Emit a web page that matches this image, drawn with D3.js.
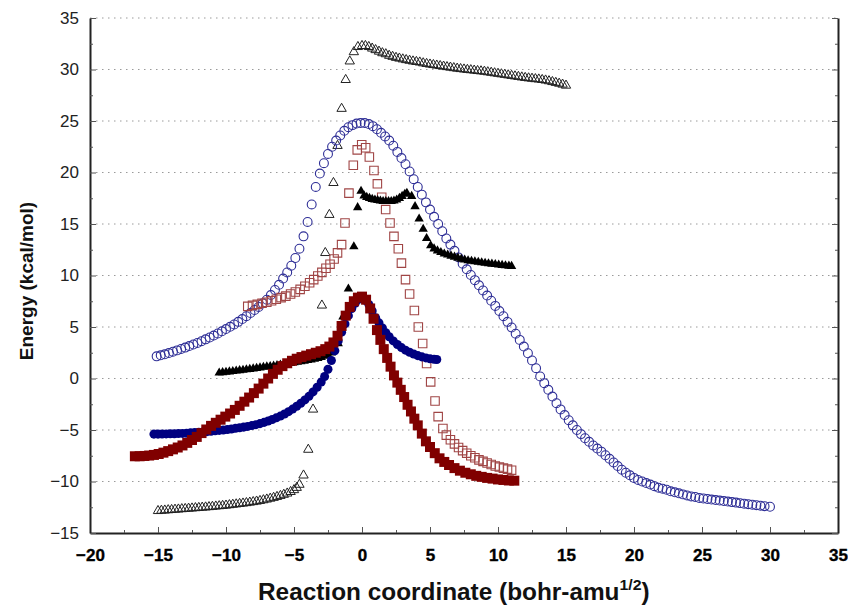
<!DOCTYPE html>
<html>
<head>
<meta charset="utf-8">
<script src="https://cdn.jsdelivr.net/npm/d3@7"></script>
<style>
  body { margin: 0; background: #fff; }
  svg { display: block; }
</style>
</head>
<body>
<div id="chart"></div>
<script>
// Axis setup
const xTicks = [-20, -15, -10, -5, 0, 5, 10, 15, 20, 25, 30, 35];
const yTicks = [-15, -10, -5, 0, 5, 10, 15, 20, 25, 30, 35];
const xTitle = "Reaction coordinate (bohr-amu";
const xTitleSup = "1/2";
const yTitle = "Energy (kcal/mol)";

// Open triangles (black)
const openTri = [
  [-15, -12.85], [-14.75, -12.82], [-14.5, -12.8], [-14.25, -12.77], [-14, -12.75], [-13.75, -12.72],
  [-13.5, -12.7], [-13.25, -12.67], [-13, -12.65], [-12.75, -12.62], [-12.5, -12.6], [-12.25, -12.57],
  [-12, -12.55], [-11.75, -12.52], [-11.5, -12.5], [-11.25, -12.47], [-11, -12.44], [-10.75, -12.41],
  [-10.5, -12.38], [-10.25, -12.35], [-10, -12.32], [-9.75, -12.28], [-9.5, -12.24], [-9.25, -12.2],
  [-9, -12.16], [-8.75, -12.12], [-8.5, -12.08], [-8.25, -12.03], [-8, -11.98], [-7.75, -11.93],
  [-7.5, -11.87], [-7.25, -11.8], [-7, -11.73], [-6.75, -11.65], [-6.5, -11.57], [-6.25, -11.48],
  [-6, -11.38], [-5.75, -11.27], [-5.5, -11.15], [-5.25, -11.0], [-5, -10.82], [-4.8, -10.6],
  [-4.6, -10.3], [-4.3, -9.4], [-3.95, -6.9], [-3.6, -3.0], [-2.95, 7.1], [-2.7, 12.2], [-2.4, 15.9],
  [-2.1, 19.0], [-1.8, 22.6], [-1.5, 26.2], [-1.2, 29.0], [-0.9, 30.8], [-0.6, 31.7], [-0.3, 32.2],
  [0, 32.3], [0.25, 32.3], [0.5, 32.2], [0.75, 32.05], [1, 31.9], [1.25, 31.75], [1.5, 31.6],
  [1.75, 31.5], [2, 31.35], [2.25, 31.25], [2.5, 31.15], [2.75, 31.08], [3, 31.0], [3.25, 30.93],
  [3.5, 30.87], [3.75, 30.8], [4, 30.75], [4.25, 30.7], [4.5, 30.62], [4.75, 30.56], [5, 30.5],
  [5.25, 30.45], [5.5, 30.4], [5.75, 30.35], [6, 30.3], [6.25, 30.25], [6.5, 30.2], [6.75, 30.15],
  [7, 30.1], [7.25, 30.06], [7.5, 30.02], [7.75, 29.98], [8, 29.95], [8.25, 29.91], [8.5, 29.87],
  [8.75, 29.84], [9, 29.8], [9.25, 29.75], [9.5, 29.7], [9.75, 29.65], [10, 29.6], [10.25, 29.55],
  [10.5, 29.5], [10.75, 29.45], [11, 29.4], [11.25, 29.35], [11.5, 29.3], [11.75, 29.25], [12, 29.2],
  [12.25, 29.16], [12.5, 29.12], [12.75, 29.08], [13, 29.05], [13.25, 29.0], [13.5, 28.95],
  [13.75, 28.88], [14, 28.8], [14.25, 28.72], [14.5, 28.64], [14.75, 28.55], [15, 28.45]
];

// Open circles (blue)
const openCirc = [
  [-15.1, 2.15], [-14.8, 2.25], [-14.5, 2.35], [-14.2, 2.47], [-13.9, 2.6], [-13.6, 2.73], [-13.3, 2.87],
  [-13.0, 3.0], [-12.7, 3.15], [-12.4, 3.3], [-12.1, 3.45], [-11.8, 3.62], [-11.5, 3.8], [-11.2, 3.98],
  [-10.9, 4.17], [-10.6, 4.37], [-10.3, 4.58], [-10.0, 4.8], [-9.7, 5.02], [-9.4, 5.25], [-9.1, 5.5],
  [-8.8, 5.77], [-8.5, 6.05], [-8.2, 6.35], [-7.9, 6.65], [-7.6, 6.95], [-7.3, 7.3], [-7.0, 7.65],
  [-6.7, 8.1], [-6.4, 8.6], [-6.1, 9.1], [-5.8, 9.7], [-5.5, 10.3], [-5.2, 10.95], [-4.9, 11.7],
  [-4.6, 12.6], [-4.3, 13.8], [-4.0, 15.2], [-3.7, 16.9], [-3.4, 18.6], [-3.1, 19.9], [-2.8, 20.9],
  [-2.5, 21.8], [-2.2, 22.5], [-1.9, 23.1], [-1.6, 23.6], [-1.3, 24.05], [-1.0, 24.4], [-0.7, 24.6],
  [-0.4, 24.75], [-0.1, 24.8], [0.2, 24.8], [0.5, 24.7], [0.8, 24.5], [1.1, 24.2], [1.4, 23.85],
  [1.7, 23.5], [2.0, 23.1], [2.3, 22.6], [2.6, 22.0], [2.9, 21.4], [3.2, 20.8], [3.5, 20.1],
  [3.8, 19.35], [4.1, 18.6], [4.4, 17.85], [4.7, 17.1], [5.0, 16.4], [5.3, 15.7], [5.6, 15.0],
  [5.9, 14.3], [6.2, 13.6], [6.5, 13.0], [6.8, 12.4], [7.1, 11.75], [7.4, 11.15], [7.7, 10.6],
  [8.0, 10.05], [8.3, 9.55], [8.6, 9.05], [8.9, 8.55], [9.2, 8.05], [9.5, 7.55], [9.8, 7.05],
  [10.1, 6.55], [10.4, 6.05], [10.7, 5.5], [11.0, 4.95], [11.3, 4.35], [11.6, 3.75], [11.9, 3.1],
  [12.2, 2.45], [12.5, 1.75], [12.8, 1.0], [13.1, 0.2], [13.4, -0.45], [13.7, -1.1], [14.0, -1.75],
  [14.3, -2.4], [14.6, -3.0], [14.9, -3.55], [15.2, -4.05], [15.5, -4.55], [15.8, -5.0], [16.1, -5.4],
  [16.4, -5.8], [16.7, -6.15], [17.0, -6.5], [17.3, -6.8], [17.6, -7.1], [17.9, -7.45], [18.2, -7.8],
  [18.5, -8.15], [18.8, -8.5], [19.1, -8.85], [19.4, -9.15], [19.7, -9.4], [20.0, -9.65], [20.3, -9.85],
  [20.6, -10.0], [20.9, -10.15], [21.2, -10.3], [21.5, -10.45], [21.8, -10.6], [22.1, -10.7],
  [22.4, -10.8], [22.7, -10.95], [23.0, -11.05], [23.3, -11.15], [23.6, -11.25], [23.9, -11.35],
  [24.2, -11.45], [24.5, -11.5], [24.8, -11.6], [25.1, -11.65], [25.4, -11.7], [25.7, -11.75],
  [26.0, -11.8], [26.3, -11.85], [26.6, -11.9], [26.9, -11.95], [27.2, -12.0], [27.5, -12.05],
  [27.8, -12.1], [28.1, -12.15], [28.4, -12.2], [28.7, -12.25], [29.0, -12.3], [29.3, -12.35],
  [29.6, -12.4], [30.0, -12.45]
];

// Open squares (brown)
const openSq = [
  [-8.4, 7.0], [-8.05, 7.1], [-7.7, 7.2], [-7.35, 7.3], [-7.0, 7.4], [-6.65, 7.55], [-6.3, 7.7],
  [-5.95, 7.85], [-5.6, 8.0], [-5.25, 8.2], [-4.9, 8.4], [-4.55, 8.65], [-4.2, 8.95], [-3.85, 9.3],
  [-3.55, 9.6], [-3.25, 9.95], [-2.95, 10.3], [-2.65, 10.7], [-2.35, 11.1], [-2.05, 11.6], [-1.8, 12.2],
  [-1.5, 13.0], [-1.25, 15.1], [-0.96, 18.0], [-0.64, 20.7], [-0.35, 22.2], [-0.02, 22.7], [0.27, 22.4],
  [0.54, 21.5], [0.88, 20.2], [1.13, 18.9], [1.45, 17.6], [1.74, 16.4], [2.06, 15.1], [2.35, 13.8],
  [2.67, 12.6], [2.9, 11.2], [3.2, 9.6], [3.5, 8.2], [3.85, 6.6], [4.14, 5.0], [4.46, 3.4], [4.75, 1.46],
  [5.05, -0.33], [5.37, -2.18], [5.6, -3.7], [5.95, -4.85], [6.2, -5.5], [6.5, -5.95], [6.8, -6.35],
  [7.1, -6.7], [7.4, -7.0], [7.7, -7.25], [8.0, -7.5], [8.3, -7.7], [8.6, -7.9], [8.9, -8.05],
  [9.2, -8.2], [9.5, -8.35], [9.8, -8.5], [10.1, -8.6], [10.4, -8.7], [10.7, -8.8], [11.0, -8.9]
];

// Filled triangles (black)
const fillTri = [
  [-10.5, 0.55], [-10.25, 0.58], [-10.0, 0.62], [-9.75, 0.66], [-9.5, 0.7], [-9.25, 0.74], [-9.0, 0.78],
  [-8.75, 0.82], [-8.5, 0.86], [-8.25, 0.9], [-8.0, 0.95], [-7.75, 1.0], [-7.5, 1.05], [-7.25, 1.1],
  [-7.0, 1.14], [-6.75, 1.18], [-6.5, 1.22], [-6.25, 1.27], [-6.0, 1.32], [-5.75, 1.37], [-5.5, 1.42],
  [-5.25, 1.48], [-5.0, 1.54], [-4.75, 1.6], [-4.5, 1.65], [-4.25, 1.7], [-4.0, 1.76], [-3.75, 1.82],
  [-3.5, 1.88], [-3.25, 1.95], [-3.0, 2.05], [-2.75, 2.17], [-2.5, 2.3], [-2.25, 2.5], [-2.0, 2.9],
  [-1.75, 3.4], [-1.4, 6.0], [-1.0, 8.7], [-0.6, 12.8], [-0.32, 16.6], [-0.07, 18.2], [0.15, 17.75],
  [0.35, 17.6], [0.55, 17.5], [0.75, 17.4], [0.95, 17.35], [1.15, 17.3], [1.35, 17.25], [1.55, 17.2],
  [1.75, 17.2], [1.95, 17.2], [2.15, 17.2], [2.35, 17.25], [2.55, 17.35], [2.75, 17.5], [2.95, 17.7],
  [3.15, 17.9], [3.3, 18.0], [3.65, 17.7], [3.9, 16.7], [4.2, 15.5], [4.5, 14.5], [4.75, 13.6],
  [5.05, 12.9], [5.3, 12.6], [5.55, 12.4], [5.8, 12.25], [6.05, 12.1], [6.3, 12.0], [6.55, 11.9],
  [6.8, 11.8], [7.05, 11.7], [7.3, 11.6], [7.55, 11.52], [7.8, 11.45], [8.05, 11.4], [8.3, 11.35],
  [8.55, 11.3], [8.8, 11.25], [9.05, 11.2], [9.3, 11.16], [9.55, 11.12], [9.8, 11.08], [10.05, 11.04],
  [10.3, 11.0], [10.55, 10.96], [10.8, 10.92], [11.0, 10.9]
];

// Filled circles (navy)
const fillCirc = [
  [-15.3, -5.4], [-15.0, -5.4], [-14.7, -5.39], [-14.4, -5.38], [-14.1, -5.37], [-13.8, -5.36],
  [-13.5, -5.35], [-13.2, -5.33], [-12.9, -5.31], [-12.6, -5.28], [-12.3, -5.25], [-12.0, -5.22],
  [-11.7, -5.19], [-11.4, -5.16], [-11.1, -5.12], [-10.8, -5.08], [-10.5, -5.04], [-10.2, -5.0],
  [-9.9, -4.96], [-9.6, -4.9], [-9.3, -4.84], [-9.0, -4.78], [-8.7, -4.72], [-8.4, -4.65], [-8.1, -4.57],
  [-7.8, -4.48], [-7.5, -4.38], [-7.2, -4.26], [-6.9, -4.13], [-6.6, -3.98], [-6.3, -3.82], [-6.0, -3.65],
  [-5.7, -3.45], [-5.4, -3.22], [-5.1, -2.97], [-4.8, -2.7], [-4.5, -2.4], [-4.2, -2.08], [-3.9, -1.73],
  [-3.6, -1.3], [-3.3, -0.85], [-3.0, -0.35], [-2.75, 0.2], [-2.5, 0.9], [-2.25, 1.75], [-2.0, 2.7],
  [-1.75, 3.65], [-1.5, 4.5], [-1.25, 5.3], [-1.0, 6.1], [-0.75, 6.8], [-0.5, 7.3], [-0.25, 7.7],
  [0.0, 7.8], [0.25, 7.6], [0.5, 7.2], [0.75, 6.55], [1.0, 5.9], [1.25, 5.4], [1.5, 4.9], [1.75, 4.45],
  [2.0, 4.05], [2.3, 3.65], [2.6, 3.3], [2.9, 3.0], [3.2, 2.75], [3.5, 2.55], [3.8, 2.38], [4.1, 2.22],
  [4.4, 2.1], [4.7, 2.0], [5.0, 1.92], [5.3, 1.87], [5.5, 1.85]
];

// Filled squares (dark red)
const fillSq = [
  [-16.7, -7.55], [-16.35, -7.55], [-16.0, -7.52], [-15.65, -7.48], [-15.3, -7.42], [-14.95, -7.33],
  [-14.6, -7.2], [-14.25, -7.05], [-13.9, -6.88], [-13.55, -6.7], [-13.2, -6.5], [-12.85, -6.25],
  [-12.5, -5.97], [-12.15, -5.67], [-11.8, -5.3], [-11.45, -4.95], [-11.1, -4.6], [-10.75, -4.3],
  [-10.4, -4.0], [-10.05, -3.7], [-9.7, -3.4], [-9.35, -3.05], [-9.0, -2.65], [-8.65, -2.25],
  [-8.3, -1.85], [-7.95, -1.42], [-7.6, -0.98], [-7.25, -0.5], [-6.9, 0.0], [-6.55, 0.45], [-6.2, 0.85],
  [-5.85, 1.2], [-5.5, 1.48], [-5.15, 1.72], [-4.8, 1.92], [-4.45, 2.08], [-4.1, 2.22], [-3.75, 2.36],
  [-3.4, 2.5], [-3.05, 2.65], [-2.7, 2.85], [-2.4, 3.1], [-2.1, 3.5], [-1.8, 4.15], [-1.5, 5.1],
  [-1.2, 6.1], [-0.9, 6.95], [-0.6, 7.5], [-0.3, 7.85], [0.0, 7.95], [0.3, 7.65], [0.6, 6.8], [0.85, 5.8],
  [1.1, 4.7], [1.35, 3.75], [1.6, 2.85], [1.85, 2.0], [2.1, 1.15], [2.35, 0.3], [2.6, -0.4], [2.85, -1.1],
  [3.1, -1.8], [3.35, -2.55], [3.6, -3.2], [3.85, -3.9], [4.1, -4.55], [4.4, -5.35], [4.7, -6.1],
  [5.0, -6.65], [5.35, -7.25], [5.7, -7.75], [6.05, -8.1], [6.4, -8.4], [6.8, -8.7], [7.2, -8.95],
  [7.6, -9.15], [8.0, -9.3], [8.4, -9.45], [8.8, -9.55], [9.2, -9.65], [9.6, -9.72], [10.0, -9.8],
  [10.4, -9.85], [10.8, -9.9], [11.2, -9.92]
];

const width = 848;
const height = 606;
const margin = { left: 90, right: 10, top: 18, bottom: 73 };

const svg = d3.select("#chart")
  .append("svg")
  .attr("width", width)
  .attr("height", height);

const x = d3.scaleLinear().domain([-20, 35]).range([margin.left, width - margin.right]);
const y = d3.scaleLinear().domain([-15, 35]).range([height - margin.bottom, margin.top]);

const minorX = xTicks.slice(0, -1).map((d) => d + 2.5);
const minorY = yTicks.slice(0, -1).map((d) => d + 2.5);

// dotted gridlines
svg.append("g")
  .selectAll("line")
  .data(yTicks.filter((d) => d > -15))
  .enter()
  .append("line")
  .attr("x1", x(-20))
  .attr("x2", x(35))
  .attr("y1", (d) => y(d))
  .attr("y2", (d) => y(d))
  .attr("stroke", "#9a9a9a")
  .attr("stroke-width", 1)
  .attr("stroke-dasharray", "1.5,4.5");

// x axis (ticks point inward), bold labels
const gx = svg.append("g")
  .attr("transform", `translate(0,${y(-15)})`)
  .call(d3.axisBottom(x).tickValues(xTicks).tickSizeInner(-6).tickSizeOuter(0).tickPadding(16));
gx.attr("font-family", "'Liberation Sans', Arial, sans-serif")
  .attr("font-size", 17);
gx.selectAll("text")
  .style("font-weight", "700")
  .attr("fill", "#000")
  .attr("stroke", "#000")
  .attr("stroke-width", 0.35);
svg.append("g")
  .attr("transform", `translate(0,${y(-15)})`)
  .call(d3.axisBottom(x).tickValues(minorX).tickSizeInner(-3).tickSizeOuter(0).tickFormat(""))
  .select(".domain").remove();

// left axis
const gy = svg.append("g")
  .attr("transform", `translate(${x(-20)},0)`)
  .call(d3.axisLeft(y).tickValues(yTicks).tickSizeInner(-6).tickSizeOuter(0).tickPadding(11));
gy.attr("font-family", "'Liberation Sans', Arial, sans-serif")
  .attr("font-size", 17);
gy.selectAll("text").attr("fill", "#222");
svg.append("g")
  .attr("transform", `translate(${x(-20)},0)`)
  .call(d3.axisLeft(y).tickValues(minorY).tickSizeInner(-3).tickSizeOuter(0).tickFormat(""))
  .select(".domain").remove();

// right axis, no labels
svg.append("g")
  .attr("transform", `translate(${x(35)},0)`)
  .call(d3.axisRight(y).tickValues(yTicks).tickSizeInner(-6).tickSizeOuter(0).tickFormat(""));
svg.append("g")
  .attr("transform", `translate(${x(35)},0)`)
  .call(d3.axisRight(y).tickValues(minorY).tickSizeInner(-3).tickSizeOuter(0).tickFormat(""))
  .select(".domain").remove();

svg.selectAll(".domain").attr("stroke", "#222").attr("stroke-width", 2);
svg.selectAll(".tick line").attr("stroke", "#555").attr("stroke-width", 1);

// series drawing helper
function drawSeries(data, type, size, fill, stroke, strokeWidth) {
  const sym = d3.symbol().type(type).size(size);
  svg.append("g")
    .selectAll("path")
    .data(data)
    .enter()
    .append("path")
    .attr("d", sym)
    .attr("transform", (d) => `translate(${x(d[0])},${y(d[1])})`)
    .attr("fill", fill)
    .attr("stroke", stroke)
    .attr("stroke-width", strokeWidth);
}

drawSeries(openTri, d3.symbolTriangle, 38, "none", "#222", 1);
drawSeries(openCirc, d3.symbolCircle, 62, "none", "#2e2e96", 1.1);
drawSeries(openSq, d3.symbolSquare, 72, "none", "#a04545", 1.1);
drawSeries(fillTri, d3.symbolTriangle, 38, "#000", "none", 0);
drawSeries(fillCirc, d3.symbolCircle, 64, "#000080", "none", 0);
drawSeries(fillSq, d3.symbolSquare, 100, "#800000", "none", 0);

// axis titles; the x title is squeezed to the reference's narrow bold look
const xt = svg.append("text")
  .attr("x", 0)
  .attr("y", 0)
  .attr("font-family", "'Liberation Sans', Arial, sans-serif")
  .style("font-weight", "bold")
  .attr("font-size", 23)
  .attr("fill", "#111");
xt.append("tspan").text(xTitle);
xt.append("tspan").attr("font-size", 15).attr("dy", -10).text(xTitleSup);
xt.append("tspan").attr("dy", 10).text(")");
const tw = xt.node().getComputedTextLength();
const sx = 392 / tw;
xt.attr("transform", `translate(${258},${600}) scale(${sx},1)`);

svg.append("text")
  .attr("transform", "translate(33,281) rotate(-90)")
  .attr("text-anchor", "middle")
  .attr("font-family", "'Liberation Sans', Arial, sans-serif")
  .style("font-weight", "bold")
  .attr("font-size", 19)
  .attr("fill", "#111")
  .text(yTitle);
</script>
</body>
</html>
